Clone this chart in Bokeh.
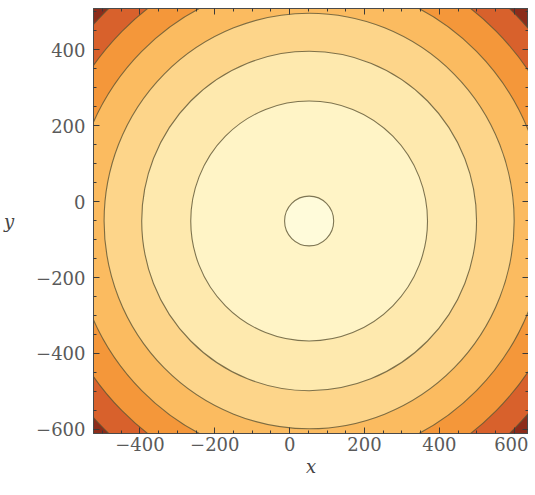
import numpy as np
from bokeh.plotting import figure
from bokeh.models import Range1d, LinearAxis, CustomJSTickFormatter, SingleIntervalTicker, ColumnDataSource
from bokeh.embed import file_html
from bokeh.resources import INLINE

# ---- data ----
center_x = 52
center_y = -51
levels = [4300, 100000, 200000, 300000, 400000, 500000, 600000]   # contour levels of (x-cx)^2+(y-cy)^2
band_colors = ["#FFFBDA", "#FFF4C6", "#FEE9AE", "#FDD58A", "#FBBB60",
               "#F4973A", "#D8612C", "#8C2C1A"]
x_limits = [-524, 638]
y_limits = [-611, 509]
tick_step = 200

radii = np.sqrt(np.array(levels, dtype=float))
order = list(range(len(levels)))[::-1]
fill_src = ColumnDataSource(dict(
    x=[center_x] * len(levels),
    y=[center_y] * len(levels),
    d=[2 * radii[i] for i in order],
    c=[band_colors[i] for i in order],
))

p = figure(width=528, height=479, output_backend="svg", toolbar_location=None,
           x_range=Range1d(*x_limits), y_range=Range1d(*y_limits),
           min_border_left=10, min_border_right=0, min_border_top=8, min_border_bottom=10,
           x_axis_location=None, y_axis_location=None)
p.grid.visible = False
p.background_fill_color = band_colors[-1]
p.border_fill_color = "white"
p.outline_line_color = "#4a4a4a"
p.outline_line_width = 1

p.ellipse(x="x", y="y", width="d", height="d", fill_color="c", line_color=None, source=fill_src)
p.ellipse(x="x", y="y", width="d", height="d", fill_color=None,
          line_color="#5e5535", line_alpha=0.8, line_width=1.1, source=fill_src)

fmt = CustomJSTickFormatter(code="return tick < 0 ? '\\u2212' + Math.abs(tick) : String(tick);")
blank = CustomJSTickFormatter(code="return '';")

def style(ax, labels=True):
    ax.ticker = SingleIntervalTicker(interval=tick_step, num_minor_ticks=4)
    ax.axis_line_color = "#4a4a4a"
    ax.major_tick_in = 6
    ax.major_tick_out = 0
    ax.minor_tick_in = 3
    ax.minor_tick_out = 0
    ax.major_tick_line_color = "#3a3a3a"
    ax.minor_tick_line_color = "#3a3a3a"
    if labels:
        ax.formatter = fmt
        ax.major_label_text_font = "DejaVu Serif"
        ax.major_label_text_font_size = "18px"
        ax.major_label_text_color = "#5a5a5a"
        ax.axis_label_text_font = "DejaVu Serif"
        ax.axis_label_text_font_style = "italic"
        ax.axis_label_text_font_size = "18px"
        ax.axis_label_text_color = "#444444"
    else:
        ax.formatter = blank
        ax.major_label_text_font_size = "1px"
        ax.major_label_standoff = 0

xb = LinearAxis(axis_label="x")
style(xb)
xb.major_label_standoff = 3
xb.axis_label_standoff = 2
p.add_layout(xb, "below")

yl = LinearAxis(axis_label="y")
style(yl)
yl.major_label_standoff = 8
yl.axis_label_standoff = 19
yl.axis_label_orientation = "horizontal"
p.add_layout(yl, "left")

xa = LinearAxis()
style(xa, labels=False)
p.add_layout(xa, "above")
yr = LinearAxis()
style(yr, labels=False)
p.add_layout(yr, "right")

open("out.html", "w").write(file_html(p, INLINE))
